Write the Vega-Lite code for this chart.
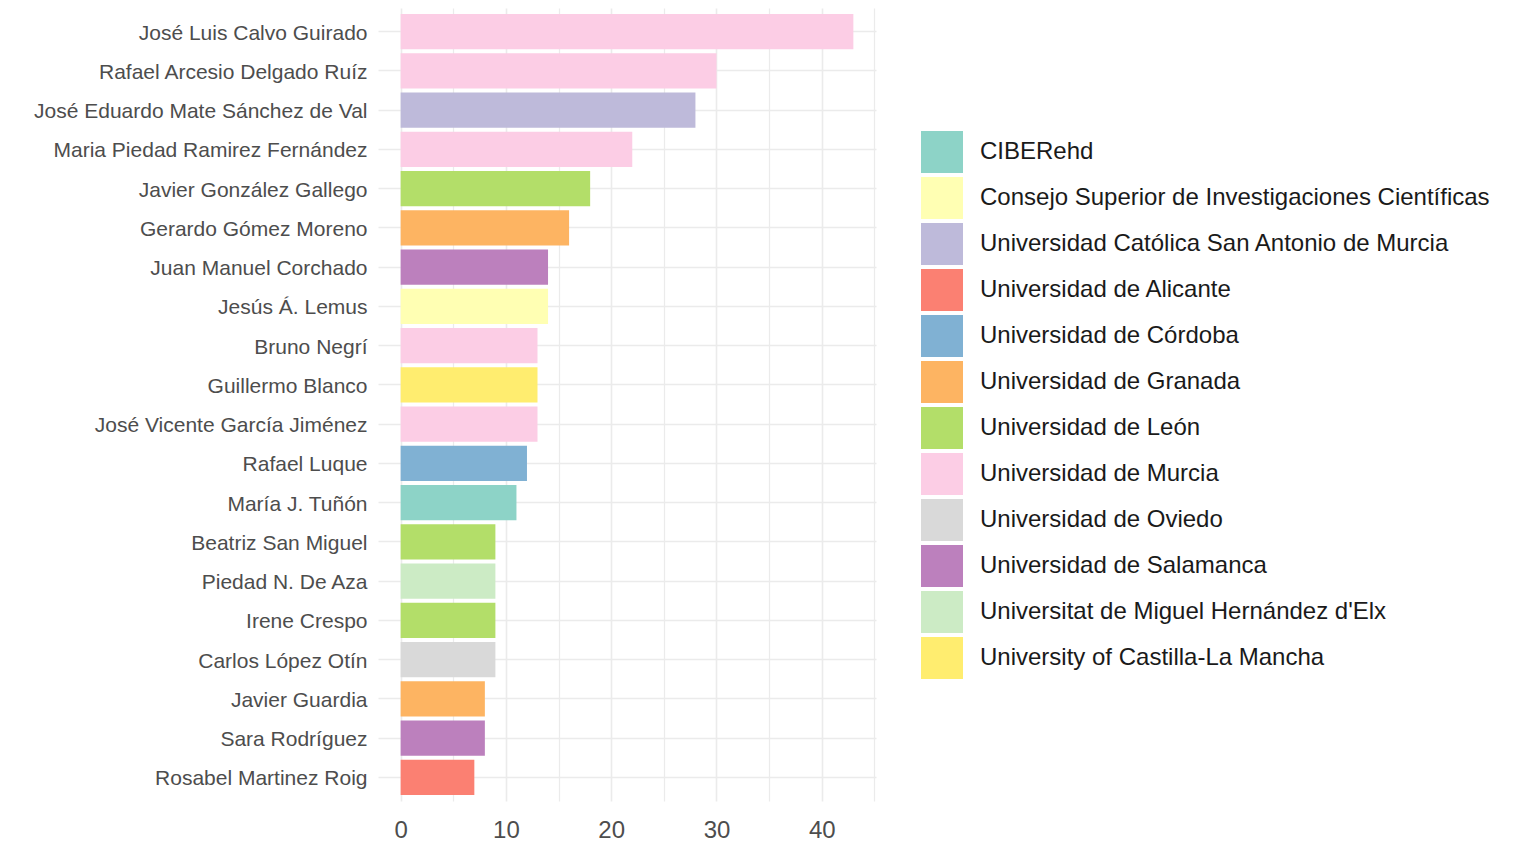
{
  "$schema": "https://vega.github.io/schema/vega-lite/v6.json",
  "autosize": {"type": "none"},
  "width": 498,
  "height": 793,
  "padding": {"left": 378, "top": 8, "right": 638, "bottom": 43},
  "background": "white",
  "config": {
    "view": {"stroke": null},
    "font": "Liberation Sans"
  },
  "data": {
    "values": [
      {"author": "José Luis Calvo Guirado", "n": 43, "inst": "Universidad de Murcia"},
      {"author": "Rafael Arcesio Delgado Ruíz", "n": 30, "inst": "Universidad de Murcia"},
      {"author": "José Eduardo Mate Sánchez de Val", "n": 28, "inst": "Universidad Católica San Antonio de Murcia"},
      {"author": "Maria Piedad Ramirez  Fernández", "n": 22, "inst": "Universidad de Murcia"},
      {"author": "Javier González Gallego", "n": 18, "inst": "Universidad de León"},
      {"author": "Gerardo Gómez Moreno", "n": 16, "inst": "Universidad de Granada"},
      {"author": "Juan Manuel Corchado", "n": 14, "inst": "Universidad de Salamanca"},
      {"author": "Jesús Á. Lemus", "n": 14, "inst": "Consejo Superior de Investigaciones Científicas"},
      {"author": "Bruno Negrí", "n": 13, "inst": "Universidad de Murcia"},
      {"author": "Guillermo Blanco", "n": 13, "inst": "University of Castilla-La Mancha"},
      {"author": "José Vicente García Jiménez", "n": 13, "inst": "Universidad de Murcia"},
      {"author": "Rafael Luque", "n": 12, "inst": "Universidad de Córdoba"},
      {"author": "María J. Tuñón", "n": 11, "inst": "CIBERehd"},
      {"author": "Beatriz San Miguel", "n": 9, "inst": "Universidad de León"},
      {"author": "Piedad N. De Aza", "n": 9, "inst": "Universitat de Miguel Hernández d'Elx"},
      {"author": "Irene Crespo", "n": 9, "inst": "Universidad de León"},
      {"author": "Carlos López Otín", "n": 9, "inst": "Universidad de Oviedo"},
      {"author": "Javier Guardia", "n": 8, "inst": "Universidad de Granada"},
      {"author": "Sara Rodríguez", "n": 8, "inst": "Universidad de Salamanca"},
      {"author": "Rosabel Martinez Roig", "n": 7, "inst": "Universidad de Alicante"}
    ]
  },
  "mark": {"type": "bar"},
  "encoding": {
    "y": {
      "field": "author",
      "type": "nominal",
      "sort": null,
      "scale": {"paddingInner": 0.1, "paddingOuter": 0.15},
      "axis": {
        "title": null,
        "domain": false,
        "ticks": false,
        "bandPosition": 0.5,
        "labelPadding": 11,
        "labelOffset": 2,
        "labelFontSize": 21,
        "labelLimit": 400,
        "labelColor": "#4d4d4d",
        "labelFont": "Liberation Sans",
        "grid": true,
        "gridColor": "#ebebeb",
        "gridWidth": 1.6
      }
    },
    "x": {
      "field": "n",
      "type": "quantitative",
      "scale": {"domain": [-2.15, 45.15], "nice": false, "zero": false},
      "axis": {
        "title": null,
        "domain": false,
        "ticks": false,
        "values": [0, 5, 10, 15, 20, 25, 30, 35, 40, 45],
        "labelExpr": "datum.value % 10 === 0 ? datum.label : ''",
        "labelPadding": 17,
        "labelFontSize": 24,
        "labelColor": "#4d4d4d",
        "labelFont": "Liberation Sans",
        "grid": true,
        "gridColor": "#ebebeb",
        "gridWidth": {"condition": {"test": "datum.value % 10 === 0", "value": 1.6}, "value": 1.2}
      }
    },
    "x2": {"datum": 0},
    "color": {
      "field": "inst",
      "type": "nominal",
      "scale": {
        "domain": [
          "CIBERehd",
          "Consejo Superior de Investigaciones Científicas",
          "Universidad Católica San Antonio de Murcia",
          "Universidad de Alicante",
          "Universidad de Córdoba",
          "Universidad de Granada",
          "Universidad de León",
          "Universidad de Murcia",
          "Universidad de Oviedo",
          "Universidad de Salamanca",
          "Universitat de Miguel Hernández d'Elx",
          "University of Castilla-La Mancha"
        ],
        "range": ["#8DD3C7", "#FFFFB3", "#BEBADA", "#FB8072", "#80B1D3", "#FDB462", "#B3DE69", "#FCCDE5", "#D9D9D9", "#BC80BD", "#CCEBC5", "#FFED6F"]
      },
      "legend": {
        "title": null,
        "orient": "none",
        "legendX": 543,
        "legendY": 123,
        "padding": 0,
        "symbolType": "square",
        "symbolSize": 1764,
        "symbolStrokeWidth": 0,
        "symbolOpacity": 1,
        "rowPadding": 4,
        "labelOffset": 17,
        "labelFontSize": 24,
        "labelFont": "Liberation Sans",
        "labelColor": "#1a1a1a",
        "labelLimit": 700
      }
    }
  }
}
